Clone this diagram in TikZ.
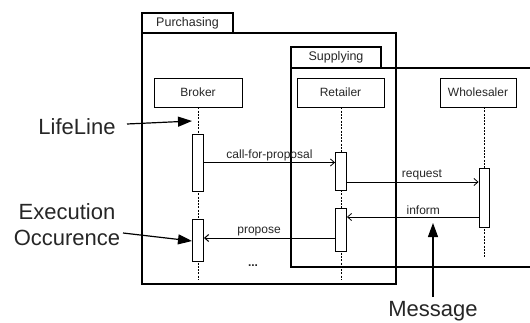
\documentclass[tikz,border=0pt]{standalone}
\usepackage{fontspec}
\setmainfont{Liberation Sans}
\usetikzlibrary{arrows.meta,calc}
\begin{document}
\begin{tikzpicture}[x=1pt,y=-1pt,
 frame/.style={line width=1.1pt},
 tabbox/.style={draw,line width=1.1pt,inner sep=0pt,font=\fontsize{12.5}{14}\selectfont,text=black!85},
 lifebox/.style={draw,line width=0.9pt,minimum height=29pt,inner sep=0pt,font=\fontsize{12}{14}\selectfont,text=black!85},
 act/.style={draw,fill=white,line width=0.9pt,minimum width=11pt,inner sep=0pt},
 lifeline/.style={line width=0.8pt,dash pattern=on 2pt off 1.3pt},
 msg/.style={line width=0.8pt,-{Straight Barb[length=4pt,width=7pt]}},
 msglabel/.style={font=\fontsize{12}{14}\selectfont,text=black!85,inner sep=1.5pt},
 note/.style={font=\fontsize{22}{26}\selectfont,text=black!85,align=center,inner sep=0pt},
 pointer/.style={line width=1.2pt,-{Triangle[length=14pt,width=10pt]}}
]
\useasboundingbox (0,0) rectangle (530,323);

% frames
\draw[frame] (142,33) rectangle (396,284);
\node[tabbox,minimum width=91pt,minimum height=20pt] (ptab) at (187.5,23) {Purchasing};
\draw[frame] (530,68) -- (291,68) -- (291,267) -- (530,267);
\node[tabbox,minimum width=90pt,minimum height=21pt] (stab) at (336,57.5) {Supplying};

% lifeline heads
\node[lifebox,minimum width=88pt] (broker) at (198,92.5) {Broker};
\node[lifebox,minimum width=87pt] (retailer) at (340.5,92.5) {Retailer};
\node[lifebox,minimum width=76pt] (wholesaler) at (478,92.5) {Wholesaler};

% lifelines
\coordinate (bend) at (198,280);
\coordinate (rend) at (341,280);
\coordinate (wtop) at (484,107);
\coordinate (wend) at (484,257);
\draw[lifeline] (broker.south) -- (bend);
\draw[lifeline] (retailer.south -| rend) -- (rend);
\draw[lifeline] (wtop) -- (wend);

% activations
\node[act,minimum height=57pt] (ba1) at (198,162.5) {};
\node[act,minimum height=42pt] (ba2) at (198,240) {};
\node[act,minimum height=38pt] (ra1) at (341,171) {};
\node[act,minimum height=43pt] (ra2) at (341,229.5) {};
\node[act,minimum height=59pt,minimum width=10pt] (wa) at (484,197.5) {};

% messages
\coordinate (yreq) at (0,182);
\coordinate (yinf) at (0,217);
\coordinate (yprop) at (0,238);
\draw[msg] (ba1.east) -- (ba1.east -| ra1.west) node[msglabel,midway,above] {call-for-proposal};
\draw[msg] (ra1.east |- yreq) -- (wa.west |- yreq) node[msglabel,pos=0.57,above] {request};
\draw[msg] (wa.west |- yinf) -- (ra2.east |- yinf) node[msglabel,pos=0.42,above] {inform};
\draw[msg,line width=1pt] (ra2.west |- yprop) -- (ba2.east |- yprop) node[msglabel,pos=0.58,above] {propose};

\node[font=\fontsize{12}{14}\selectfont\bfseries,text=black!85] (dots) at (253,266) {...};

% annotations
\node[note] (lifelinelbl) at (77,127) {LifeLine};
\coordinate (llfrom) at (127,124);
\coordinate (llto) at (192,121);
\draw[pointer] (llfrom) -- (llto);

\node[note] (execlbl) at (67,225) {Execution\\Occurence};
\coordinate (exfrom) at (123,233);
\coordinate (exto) at (192,241);
\draw[pointer] (exfrom) -- (exto);

\node[note] (msglbl) at (433,311) {Message};
\coordinate (mfrom) at (433,297);
\coordinate (mto) at (433,223);
\draw[pointer] (mfrom) -- (mto);
\end{tikzpicture}
\end{document}
